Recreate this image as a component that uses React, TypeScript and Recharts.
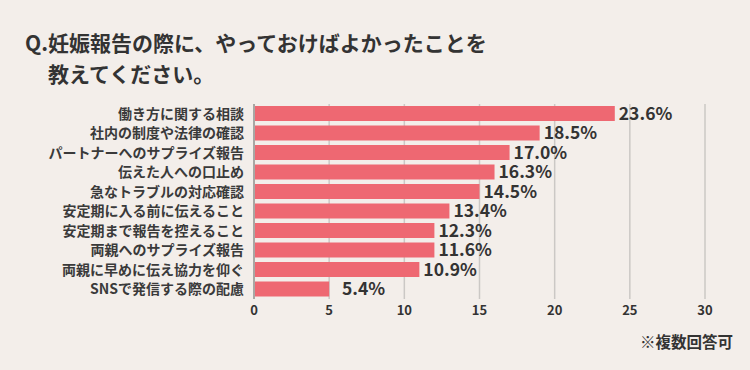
import { BarChart, Bar, XAxis, YAxis, CartesianGrid, LabelList } from "recharts";

const FONT = '"Noto Sans CJK JP", "Noto Sans", sans-serif';

const categories = [
  "働き方に関する相談",
  "社内の制度や法律の確認",
  "パートナーへのサプライズ報告",
  "伝えた人への口止め",
  "急なトラブルの対応確認",
  "安定期に入る前に伝えること",
  "安定期まで報告を控えること",
  "両親へのサプライズ報告",
  "両親に早めに伝え協力を仰ぐ",
  "SNSで発信する際の配慮",
];

// bar lengths as drawn in the picture
const barValues = [24, 19, 17, 16, 15, 13, 12, 12, 11, 5];

// value labels as printed (the last one sits a little further out)
const percentLabels = ["23.6%", "18.5%", "17.0%", "16.3%", "14.5%", "13.4%", "12.3%", "11.6%", "10.9%", "\u20025.4%"];

const xTicks = [0, 5, 10, 15, 20, 25, 30];

const chartData = categories.map((name, i) => ({
  name,
  value: barValues[i],
  label: percentLabels[i],
}));

export default function App() {
  return (
    <div
      style={{
        position: "absolute",
        left: 0,
        top: 0,
        width: 750,
        height: 370,
        background: "#f3eeea",
        fontFamily: FONT,
        color: "#333",
        overflow: "hidden",
      }}
    >
      <div
        style={{
          position: "absolute",
          left: 25,
          top: 27,
          fontSize: 21,
          fontWeight: 700,
          lineHeight: "31px",
          whiteSpace: "nowrap",
        }}
      >
        <div>Q.妊娠報告の際に、やっておけばよかったことを</div>
        <div style={{ paddingLeft: 23 }}>教えてください。</div>
      </div>
      <div style={{ position: "absolute", left: 0, top: 0 }}>
        <BarChart
          width={750}
          height={370}
          data={chartData}
          layout="vertical"
          margin={{ top: 104, right: 45, bottom: 41, left: 0 }}
        >
          <CartesianGrid horizontal={false} vertical stroke="#cbc8c5" strokeWidth={1.5} />
          <XAxis
            type="number"
            domain={[0, 30]}
            ticks={xTicks}
            axisLine={false}
            tickLine={false}
            tickSize={0}
            tickMargin={7}
            height={30}
            tick={{ fontSize: 13, fontWeight: 700, fill: "#333", fontFamily: FONT }}
          />
          <YAxis
            type="category"
            dataKey="name"
            width={254}
            axisLine={{ stroke: "#a9a7a4", strokeWidth: 2 }}
            tickLine={false}
            tickSize={0}
            tickMargin={10}
            interval={0}
            tick={{ fontSize: 14, fontWeight: 600, fill: "#3a3a3a", fontFamily: FONT }}
          />
          <Bar dataKey="value" fill="#ee6872" barSize={15} isAnimationActive={false}>
            <LabelList
              dataKey="label"
              position="right"
              offset={4}
              style={{ fontSize: 17.5, fontWeight: 700, fill: "#333", fontFamily: FONT }}
            />
          </Bar>
        </BarChart>
      </div>
      <div
        style={{
          position: "absolute",
          right: 17,
          top: 330,
          fontSize: 15.5,
          fontWeight: 700,
          whiteSpace: "nowrap",
        }}
      >
        ※複数回答可
      </div>
    </div>
  );
}
